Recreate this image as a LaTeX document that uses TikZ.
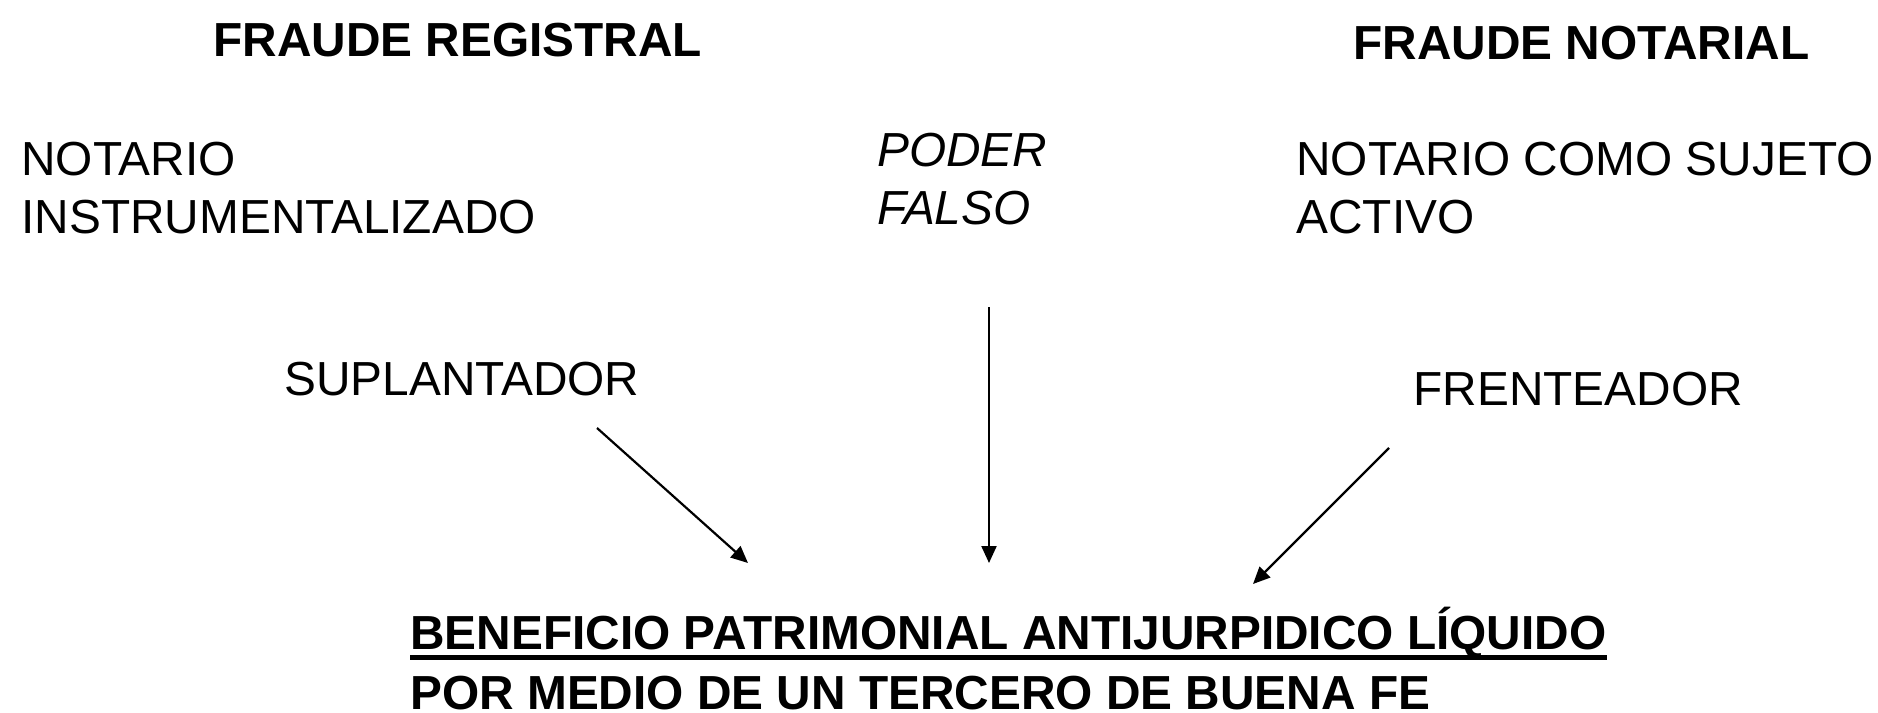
\documentclass[tikz,border=0pt]{standalone}
\usepackage{fontspec}
\setmainfont{Liberation Sans}
\usetikzlibrary{arrows.meta}
\begin{document}
\begin{tikzpicture}[x=0.5pt,y=-0.5pt,
  lbl/.style={inner sep=0pt,anchor=base west,align=left,font=\fontsize{23.9}{29}\selectfont},
  ttl/.style={lbl,font=\fontsize{23.9}{29}\selectfont\bfseries},
  arr/.style={line width=1.1pt,-{Triangle[length=8.5pt,width=7.5pt]}}]
\useasboundingbox (0,0) rectangle (1878,712);
\node[ttl] (fr) at (213,56) {FRAUDE REGISTRAL};
\node[ttl] (fn) at (1353,59) {FRAUDE NOTARIAL};
\node[lbl] (ni) at (21,233) {NOTARIO\\INSTRUMENTALIZADO};
\node[lbl,font=\fontsize{23.9}{29}\selectfont\itshape] (pf) at (877,224) {PODER\\FALSO};
\node[lbl] (nc) at (1296,233) {NOTARIO COMO SUJETO\\ACTIVO};
\node[lbl] (su) at (284,395) {SUPLANTADOR};
\node[lbl] (fe) at (1413,405) {FRENTEADOR};
\node[ttl] (b1) at (410,649) {BENEFICIO PATRIMONIAL ANTIJURPIDICO LÍQUIDO};
\node[ttl] (b2) at (410,709) {POR MEDIO DE UN TERCERO DE BUENA FE};
\draw[line width=2.1pt] ([yshift=-4.25pt]b1.base west) -- ([yshift=-4.25pt]b1.base east);
\coordinate (s1) at (597,428);
\coordinate (e1) at (748,563);
\coordinate (s2) at (989,307);
\coordinate (e2) at (989,563);
\coordinate (s3) at (1389,448);
\coordinate (e3) at (1253,584);
\draw[arr] (s1) -- (e1);
\draw[arr] (s2) -- (e2);
\draw[arr] (s3) -- (e3);
\end{tikzpicture}
\end{document}
